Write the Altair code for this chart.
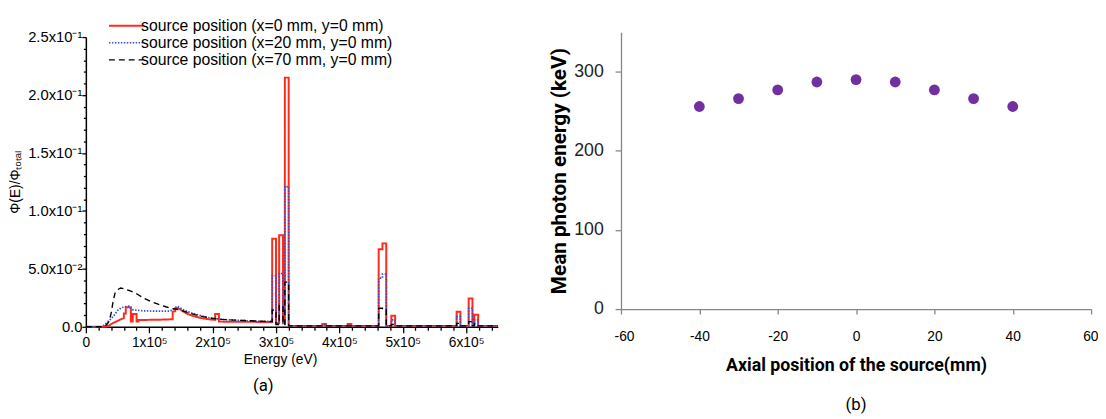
import altair as alt
import pandas as pd

# ---------------- Panel (a): energy spectra ----------------
SERIES = [
    "source position (x=0 mm, y=0 mm)",
    "source position (x=20 mm, y=0 mm)",
    "source position (x=70 mm, y=0 mm)",
]
COLORS = ["#ff2a1a", "#3a4bd0", "#000000"]
DASHES = [[1, 0], [1.5, 1.5], [6, 4]]
WIDTHS = [2.0, 1.4, 1.6]

# (energy eV, phi/phi_total) vertices of each histogram outline
RED = [(0, 0), (30000, 0), (36000, 0.001), (42000, 0.003), (48000, 0.0045), (54000, 0.0062),
       (60000, 0.0075), (60000, 0.0115), (63000, 0.0115), (63000, 0.0168), (71000, 0.0168),
       (71000, 0.0045), (74000, 0.0045), (74000, 0.011), (80000, 0.011), (80000, 0.0045),
       (83000, 0.0045), (83000, 0.0058), (100000, 0.006), (120000, 0.0062), (137000, 0.0065),
       (137000, 0.013), (141000, 0.0135), (141000, 0.016), (146000, 0.016), (152000, 0.0138),
       (160000, 0.0112), (170000, 0.0092), (182000, 0.0076), (195000, 0.0064), (204000, 0.006),
       (204000, 0.011), (210000, 0.011), (210000, 0.0045), (240000, 0.0043), (294000, 0.0042),
       (294000, 0.076), (300000, 0.076), (300000, 0.003), (305000, 0.003), (305000, 0.079),
       (311000, 0.079), (311000, 0.003), (314000, 0.003), (314000, 0.215), (320000, 0.215),
       (320000, 0.0008), (373000, 0.0008), (373000, 0.0025), (379000, 0.0025), (379000, 0.0008),
       (413000, 0.0008), (413000, 0.0025), (419000, 0.0025), (419000, 0.0008), (462000, 0.0008),
       (462000, 0.067), (468000, 0.067), (468000, 0.072), (474000, 0.072), (474000, 0.0008),
       (482000, 0.0008), (482000, 0.0095), (488000, 0.0095), (488000, 0.0008), (585000, 0.0008),
       (585000, 0.013), (591000, 0.013), (591000, 0.0008), (604000, 0.0008), (604000, 0.0245),
       (610000, 0.0245), (610000, 0.002), (613000, 0.002), (613000, 0.0105), (619000, 0.0105),
       (619000, 0.0008), (650000, 0.0008)]

BLUE = [(0, 0), (26000, 0), (32000, 0.003), (38000, 0.006), (44000, 0.0095), (50000, 0.014),
        (56000, 0.0165), (62000, 0.0172), (68000, 0.0178), (72000, 0.015), (76000, 0.0145),
        (90000, 0.0138), (110000, 0.0135), (132000, 0.0135), (138000, 0.015), (144000, 0.0178),
        (150000, 0.016), (157000, 0.0138), (165000, 0.0122), (173000, 0.011), (182000, 0.0095),
        (190000, 0.0083), (199000, 0.0074), (210000, 0.0066), (225000, 0.006), (245000, 0.0054),
        (270000, 0.0049), (294000, 0.0046), (294000, 0.044), (300000, 0.044), (300000, 0.003),
        (305000, 0.003), (305000, 0.046), (311000, 0.046), (311000, 0.003), (314000, 0.003),
        (314000, 0.121), (320000, 0.121), (320000, 0.0008), (373000, 0.0008), (373000, 0.0015),
        (379000, 0.0015), (379000, 0.0008), (413000, 0.0008), (413000, 0.0015), (419000, 0.0015),
        (419000, 0.0008), (462000, 0.0008), (462000, 0.042), (468000, 0.042), (468000, 0.0455),
        (474000, 0.0455), (474000, 0.0008), (482000, 0.0008), (482000, 0.006), (488000, 0.006),
        (488000, 0.0008), (585000, 0.0008), (585000, 0.0088), (591000, 0.0088), (591000, 0.0008),
        (604000, 0.0008), (604000, 0.016), (610000, 0.016), (610000, 0.0008), (613000, 0.0008),
        (613000, 0.006), (619000, 0.006), (619000, 0.0008), (650000, 0.0008)]

BLACK = [(0, 0), (28000, 0), (33000, 0.002), (37000, 0.005), (40000, 0.012), (43000, 0.022),
         (46000, 0.029), (50000, 0.032), (55000, 0.0335), (62000, 0.0325), (70000, 0.031),
         (80000, 0.0285), (92000, 0.0245), (104000, 0.0215), (114000, 0.0195), (125000, 0.0175),
         (135000, 0.0158), (147000, 0.0148), (160000, 0.0125), (172000, 0.0105), (185000, 0.0088),
         (199000, 0.0074), (215000, 0.0064), (235000, 0.0058), (251000, 0.0054), (275000, 0.0048),
         (294000, 0.0045), (294000, 0.0145), (300000, 0.0145), (300000, 0.002), (305000, 0.002),
         (305000, 0.0185), (311000, 0.0185), (311000, 0.002), (314000, 0.002), (314000, 0.0386),
         (320000, 0.0386), (320000, 0.0008), (462000, 0.0008), (462000, 0.016), (468000, 0.016),
         (468000, 0.0145), (474000, 0.0145), (474000, 0.0008), (482000, 0.0008), (482000, 0.002),
         (488000, 0.002), (488000, 0.0008), (585000, 0.0008), (585000, 0.003), (591000, 0.003),
         (591000, 0.0008), (604000, 0.0008), (604000, 0.0045), (610000, 0.0045), (610000, 0.0008),
         (613000, 0.0008), (613000, 0.0025), (619000, 0.0025), (619000, 0.0008), (650000, 0.0008)]

Y_MAJOR = [0, 0.05, 0.1, 0.15, 0.2, 0.25]
Y_MAJOR_LABELS = ["0.0", "5.0x10⁻²", "1.0x10⁻¹", "1.5x10⁻¹", "2.0x10⁻¹", "2.5x10⁻¹"]
Y_MINOR = [round(0.01 * k, 2) for k in range(26)]
X_MAJOR = [0, 100000, 200000, 300000, 400000, 500000, 600000]
X_MAJOR_LABELS = ["0", "1x10⁵", "2x10⁵", "3x10⁵", "4x10⁵", "5x10⁵", "6x10⁵"]
X_MINOR = [20000 * k for k in range(33)]

# ---------------- Panel (b): mean photon energy ----------------
POS = [-40, -30, -20, -10, 0, 10, 20, 30, 40]
MEAN_E = [256, 266, 277, 287, 290, 287, 277, 266, 256]
XB_TICKS = [-60, -40, -20, 0, 20, 40, 60]
YB_TICKS = [0, 100, 200, 300]

rows = []
for name, pts in zip(SERIES, [RED, BLUE, BLACK]):
    for i, (e, v) in enumerate(pts):
        rows.append({"series": name, "E": e, "v": v, "i": i})
df_a = pd.DataFrame(rows)


def label_expr(vals, labels):
    arr = "[" + ",".join(repr(v) for v in vals) + "]"
    lab = "[" + ",".join("'" + s + "'" for s in labels) + "]"
    return f"indexof({arr}, datum.value) >= 0 ? {lab}[indexof({arr}, datum.value)] : ''"


def major_test(vals):
    arr = "[" + ",".join(repr(v) for v in vals) + "]"
    return f"indexof({arr}, datum.value) >= 0"


FONT_A = "Liberation Sans"
leg = alt.Legend(
    title=None, orient="none", legendX=33, legendY=-19.5,
    symbolType="M-3.5,0H3.5", symbolSize=100, symbolStrokeWidth=1.6,
    labelOffset=7, labelFont=FONT_A, labelFontSize=16, labelColor="black",
    labelLimit=0, rowPadding=1.3, padding=0,
)

panel_a = alt.Chart(df_a).mark_line(strokeJoin="miter", strokeCap="butt").encode(
    x=alt.X("E:Q", scale=alt.Scale(domain=[0, 650000], nice=False, zero=False),
            axis=alt.Axis(values=X_MINOR, labelExpr=label_expr(X_MAJOR, X_MAJOR_LABELS),
                          tickSize={"condition": {"test": major_test(X_MAJOR), "value": 6}, "value": 3.5},
                          title="Energy (eV)", titleFontWeight="normal", titleFontSize=14,
                          titlePadding=3, titleX=197, labelPadding=3, labelFlush=False,
                          labelOverlap=False, grid=False)),
    y=alt.Y("v:Q", scale=alt.Scale(domain=[0, 0.25], nice=False),
            axis=alt.Axis(values=Y_MINOR, labelExpr=label_expr(Y_MAJOR, Y_MAJOR_LABELS),
                          tickSize={"condition": {"test": major_test(Y_MAJOR), "value": 4}, "value": 2.5},
                          title="Φ(E)/Φₜₒₜₐₗ", titleFontWeight="normal", titleFontSize=14,
                          titlePadding=5, labelPadding=0, labelFontSize=15,
                          labelOverlap=False, labelFlush=False, grid=False)),
    color=alt.Color("series:N", scale=alt.Scale(domain=SERIES, range=COLORS), legend=leg),
    strokeDash=alt.StrokeDash("series:N", scale=alt.Scale(domain=SERIES, range=DASHES), legend=leg),
    strokeWidth=alt.StrokeWidth("series:N", scale=alt.Scale(domain=SERIES, range=WIDTHS), legend=None),
    order="i:Q",
).properties(
    width=418, height=294,
    title=alt.TitleParams("(a)", orient="bottom", anchor="middle", dx=-29, offset=12,
                          fontSize=17, fontWeight="normal", font="Roboto", color="black"),
)

AX_B = "#868686"
panel_b = alt.Chart(pd.DataFrame({"pos": POS, "energy": MEAN_E})).mark_circle(
    size=120, color="#7030A0", opacity=1
).encode(
    x=alt.X("pos:Q", scale=alt.Scale(domain=[-60, 60], nice=False, zero=False),
            axis=alt.Axis(values=XB_TICKS, title="Axial position of the source(mm)",
                          labelExpr="datum.value < 0 ? '-' + abs(datum.value) : '' + datum.value",
                          domainColor=AX_B, tickColor=AX_B, domainWidth=1.3, tickWidth=1.3,
                          tickSize=5, labelFont="Liberation Sans", labelFontSize=14,
                          labelColor="black", labelPadding=16, labelFlush=True,
                          labelFlushOffset=7,
                          titleFont="Roboto", titleFontSize=18, titleFontWeight="bold",
                          titlePadding=13, grid=False)),
    y=alt.Y("energy:Q", scale=alt.Scale(domain=[0, 350], nice=False, range=[276, -5]),
            axis=alt.Axis(values=YB_TICKS, title="Mean photon energy   (keV)",
                          domainColor=AX_B, tickColor=AX_B, domainWidth=1.3, tickWidth=1.3,
                          tickSize=6, labelFont="Liberation Sans", labelFontSize=18,
                          labelColor="#222222", labelPadding=12, labelFlush=False,
                          titleFont="Roboto", titleFontSize=21, titleFontWeight="bold",
                          titlePadding=4, grid=False)),
).properties(
    width=477, height=276,
    title=alt.TitleParams("(b)", orient="bottom", anchor="middle", offset=23,
                          fontSize=17, fontWeight="normal", font="Roboto", color="black"),
)

chart = alt.hconcat(panel_a, panel_b, spacing=47).properties(
    padding={"left": 0, "top": 6.5, "right": 0, "bottom": 0},
    background="white",
).configure_view(stroke=None).configure_axis(
    domainColor="black", domainWidth=1.5, tickColor="black", tickWidth=1.3,
    labelFont=FONT_A, labelFontSize=14, labelColor="black",
    titleFont=FONT_A, titleColor="black", grid=False,
)

chart.save("out.html", embed_options={"renderer": "svg", "actions": False})
